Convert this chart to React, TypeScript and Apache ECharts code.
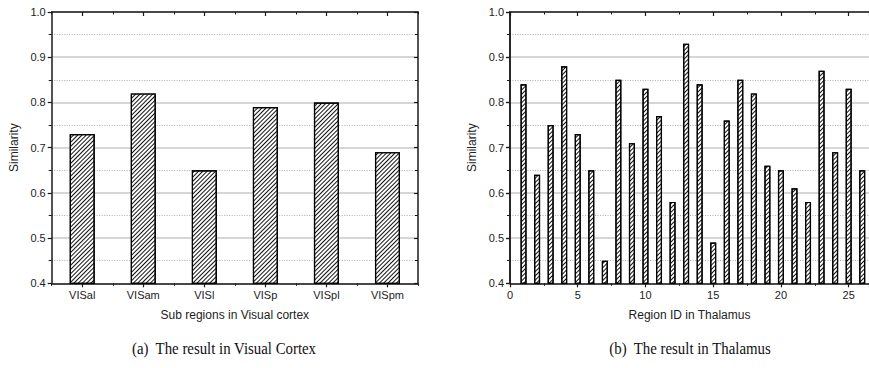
import React, { useEffect, useRef } from "react";
import * as echarts from "echarts";

const visualCategories = ["VISal", "VISam", "VISl", "VISp", "VISpl", "VISpm"];
const visualValues = [0.73, 0.82, 0.65, 0.79, 0.8, 0.69];

const thalamusIds = [1, 2, 3, 4, 5, 6, 7, 8, 9, 10, 11, 12, 13, 14, 15, 16, 17, 18, 19, 20, 21, 22, 23, 24, 25, 26];
const thalamusValues = [
  0.84, 0.64, 0.75, 0.88, 0.73, 0.65, 0.45, 0.85, 0.71, 0.83, 0.77, 0.58, 0.93,
  0.84, 0.49, 0.76, 0.85, 0.82, 0.66, 0.65, 0.61, 0.58, 0.87, 0.69, 0.83, 0.65,
];

const yTickLabels = ["0.4", "0.5", "0.6", "0.7", "0.8", "0.9", "1.0"];

const captionA = "(a)  The result in Visual Cortex";
const captionB = "(b)  The result in Thalamus";

const SANS = "Liberation Sans, Arial, sans-serif";
const SERIF = "Liberation Serif, Times New Roman, serif";
const AXIS_COLOR = "#1a1a1a";

const hatch = {
  symbol: "rect",
  symbolSize: 1,
  color: "#111111",
  backgroundColor: "#ffffff",
  dashArrayX: [1, 0],
  dashArrayY: [1, 1.8],
  rotation: -Math.PI / 4,
};

function yAxes(gridIndex: number) {
  const yMin = parseFloat(yTickLabels[0]);
  const yMax = parseFloat(yTickLabels[yTickLabels.length - 1]);
  return [
    {
      type: "value",
      gridIndex,
      position: "left",
      min: yMin,
      max: yMax,
      interval: 0.1,
      name: "Similarity",
      nameLocation: "middle",
      nameGap: 32,
      nameTextStyle: { fontFamily: SANS, fontSize: 12, color: "#222" },
      axisLine: { show: true, lineStyle: { color: AXIS_COLOR, width: 1.5 } },
      axisTick: { show: true, inside: false, length: 4, lineStyle: { color: AXIS_COLOR, width: 1.2 } },
      minorTick: { show: true, splitNumber: 2, length: 3, lineStyle: { color: AXIS_COLOR, width: 1 } },
      axisLabel: {
        fontFamily: SANS,
        fontSize: 11,
        color: "#222",
        margin: 6,
        formatter: (v: number) => v.toFixed(1),
      },
      splitLine: { show: true, lineStyle: { color: "#c9c9c9", width: 1.5 } },
      minorSplitLine: { show: true, lineStyle: { color: "#9a9a9a", width: 0.8, type: [1, 1.5] } },
    },
    {
      type: "value",
      gridIndex,
      position: "right",
      min: yMin,
      max: yMax,
      interval: 0.1,
      axisLine: { show: true, lineStyle: { color: AXIS_COLOR, width: 1.5 } },
      axisTick: { show: true, inside: true, length: 4, lineStyle: { color: AXIS_COLOR, width: 1.2 } },
      minorTick: { show: true, splitNumber: 2, length: 3, lineStyle: { color: AXIS_COLOR, width: 1 } },
      axisLabel: { show: false },
      splitLine: { show: false },
    },
  ];
}

export default function App() {
  const ref = useRef<HTMLDivElement>(null);

  useEffect(() => {
    if (!ref.current) return;
    const chart = echarts.init(ref.current, null, { renderer: "svg" });

    const option: any = {
      animation: false,
      backgroundColor: "#ffffff",
      grid: [
        { left: 51.7, top: 12, width: 366.3, height: 271.3, containLabel: false },
        { left: 510, top: 12, right: 0, height: 271.3, containLabel: false },
      ],
      xAxis: [
        {
          type: "category",
          gridIndex: 0,
          position: "bottom",
          data: visualCategories,
          name: "Sub regions in Visual cortex",
          nameLocation: "middle",
          nameGap: 26,
          nameTextStyle: { fontFamily: SANS, fontSize: 12, color: "#222" },
          axisLine: { show: true, lineStyle: { color: AXIS_COLOR, width: 1.5 } },
          axisTick: { show: true, alignWithLabel: true, inside: false, length: 4, lineStyle: { color: AXIS_COLOR, width: 1.2 } },
          axisLabel: { fontFamily: SANS, fontSize: 11, color: "#222", margin: 6 },
          splitLine: { show: false },
        },
        {
          type: "category",
          gridIndex: 0,
          position: "bottom",
          data: visualCategories,
          axisLine: { show: false },
          axisTick: { show: true, alignWithLabel: false, inside: false, length: 2.5, lineStyle: { color: AXIS_COLOR, width: 1 } },
          axisLabel: { show: false },
          splitLine: { show: false },
        },
        {
          type: "category",
          gridIndex: 0,
          position: "top",
          data: visualCategories,
          axisLine: { show: true, lineStyle: { color: AXIS_COLOR, width: 1.5 } },
          axisTick: { show: true, alignWithLabel: true, inside: true, length: 4, lineStyle: { color: AXIS_COLOR, width: 1.2 } },
          axisLabel: { show: false },
          splitLine: { show: false },
        },
        {
          type: "category",
          gridIndex: 0,
          position: "top",
          data: visualCategories,
          axisLine: { show: false },
          axisTick: { show: true, alignWithLabel: false, inside: true, length: 2.5, lineStyle: { color: AXIS_COLOR, width: 1 } },
          axisLabel: { show: false },
          splitLine: { show: false },
        },
        {
          type: "value",
          gridIndex: 1,
          position: "bottom",
          min: 0,
          max: 26.5,
          interval: 5,
          name: "Region ID in Thalamus",
          nameLocation: "middle",
          nameGap: 26,
          nameTextStyle: { fontFamily: SANS, fontSize: 12, color: "#222" },
          axisLine: { show: true, onZero: false, lineStyle: { color: AXIS_COLOR, width: 1.5 } },
          axisTick: { show: true, inside: false, length: 4, lineStyle: { color: AXIS_COLOR, width: 1.2 } },
          minorTick: { show: true, splitNumber: 2, length: 2.5, lineStyle: { color: AXIS_COLOR, width: 1 } },
          axisLabel: { fontFamily: SANS, fontSize: 11, color: "#222", margin: 6, showMaxLabel: false },
          splitLine: { show: false },
        },
        {
          type: "value",
          gridIndex: 1,
          position: "top",
          min: 0,
          max: 26.5,
          interval: 5,
          axisLine: { show: true, onZero: false, lineStyle: { color: AXIS_COLOR, width: 1.5 } },
          axisTick: { show: true, inside: true, length: 4, lineStyle: { color: AXIS_COLOR, width: 1.2 } },
          minorTick: { show: true, splitNumber: 2, length: 2.5, lineStyle: { color: AXIS_COLOR, width: 1 } },
          axisLabel: { show: false },
          splitLine: { show: false },
        },
      ],
      yAxis: [...yAxes(0), ...yAxes(1)],
      series: [
        {
          type: "bar",
          xAxisIndex: 0,
          yAxisIndex: 0,
          data: visualValues,
          barWidth: 25,
          itemStyle: { color: "#ffffff", borderColor: "#000", borderWidth: 1.2, decal: hatch },
          z: 5,
        },
        {
          type: "bar",
          xAxisIndex: 4,
          yAxisIndex: 2,
          data: thalamusIds.map((id, i) => [id, thalamusValues[i]]),
          barWidth: 6,
          itemStyle: { color: "#ffffff", borderColor: "#000", borderWidth: 1.2, decal: hatch },
          z: 5,
        },
      ],
      graphic: [
        {
          type: "text",
          x: 224,
          y: 348,
          scaleX: 0.9,
          style: {
            text: captionA,
            fontFamily: SERIF,
            fontSize: 16.5,
            fill: "#111",
            align: "center",
            verticalAlign: "middle",
          },
        },
        {
          type: "text",
          x: 690,
          y: 348,
          scaleX: 0.9,
          style: {
            text: captionB,
            fontFamily: SERIF,
            fontSize: 16.5,
            fill: "#111",
            align: "center",
            verticalAlign: "middle",
          },
        },
      ],
    };

    chart.setOption(option);
    return () => chart.dispose();
  }, []);

  return (
    <div
      ref={ref}
      style={{ position: "fixed", left: 0, top: 0, width: 869, height: 368, background: "#fff" }}
    />
  );
}
